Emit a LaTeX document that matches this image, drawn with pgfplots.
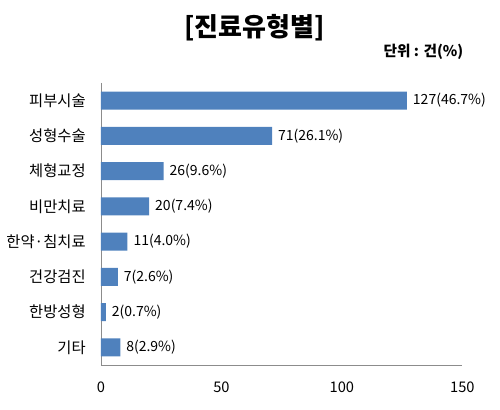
\documentclass[border=0pt]{standalone}
\usepackage{pgfplots}
\pgfplotsset{compat=1.18}
\usepackage{fontspec}
\setmainfont{Noto Sans CJK KR}
\definecolor{barblue}{HTML}{4F81BD}
\definecolor{axgray}{HTML}{8C8C8C}
\begin{document}
\begin{tikzpicture}
  \useasboundingbox (0,0) rectangle (375pt,307.5pt);
  \node[font=\fontsize{19.5}{22}\selectfont\bfseries] at (191pt,287pt) {[진료유형별]};
  \node[font=\fontsize{11}{13}\selectfont\bfseries, anchor=east] at (351pt,269pt) {단위 : 건(\%)};
  \begin{axis}[
      at={(75.75pt,33.75pt)}, anchor=south west,
      scale only axis,
      width=271pt, height=211.5pt,
      xbar, bar width=13.5pt,
      xmin=0, xmax=150,
      ymin=-0.5, ymax=7.5,
      y dir=reverse,
      xtick={0,50,100,150},
      ytick={0,...,7},
      yticklabels={피부시술,성형수술,체형교정,비만치료,한약·침치료,건강검진,한방성형,기타},
      axis lines=left,
      axis line style={axgray, -},
      major tick length=0pt,
      yticklabel style={font=\fontsize{11.5}{13}\selectfont, xshift=-8pt},
      xticklabel style={font=\fontsize{11}{13}\selectfont, yshift=-9pt},
      /pgf/number format/assume math mode=true,
      nodes near coords,
      point meta=explicit symbolic,
      every node near coord/.append style={font=\fontsize{10.5}{12}\selectfont, anchor=west, xshift=1pt},
      clip=false,
    ]
    \addplot[fill=barblue, draw=none] coordinates {
      (127,0) [127(46.7\%)]
      (71,1)  [71(26.1\%)]
      (26,2)  [26(9.6\%)]
      (20,3)  [20(7.4\%)]
      (11,4)  [11(4.0\%)]
      (7,5)   [7(2.6\%)]
      (2,6)   [2(0.7\%)]
      (8,7)   [8(2.9\%)]
    };
  \end{axis}
\end{tikzpicture}
\end{document}
